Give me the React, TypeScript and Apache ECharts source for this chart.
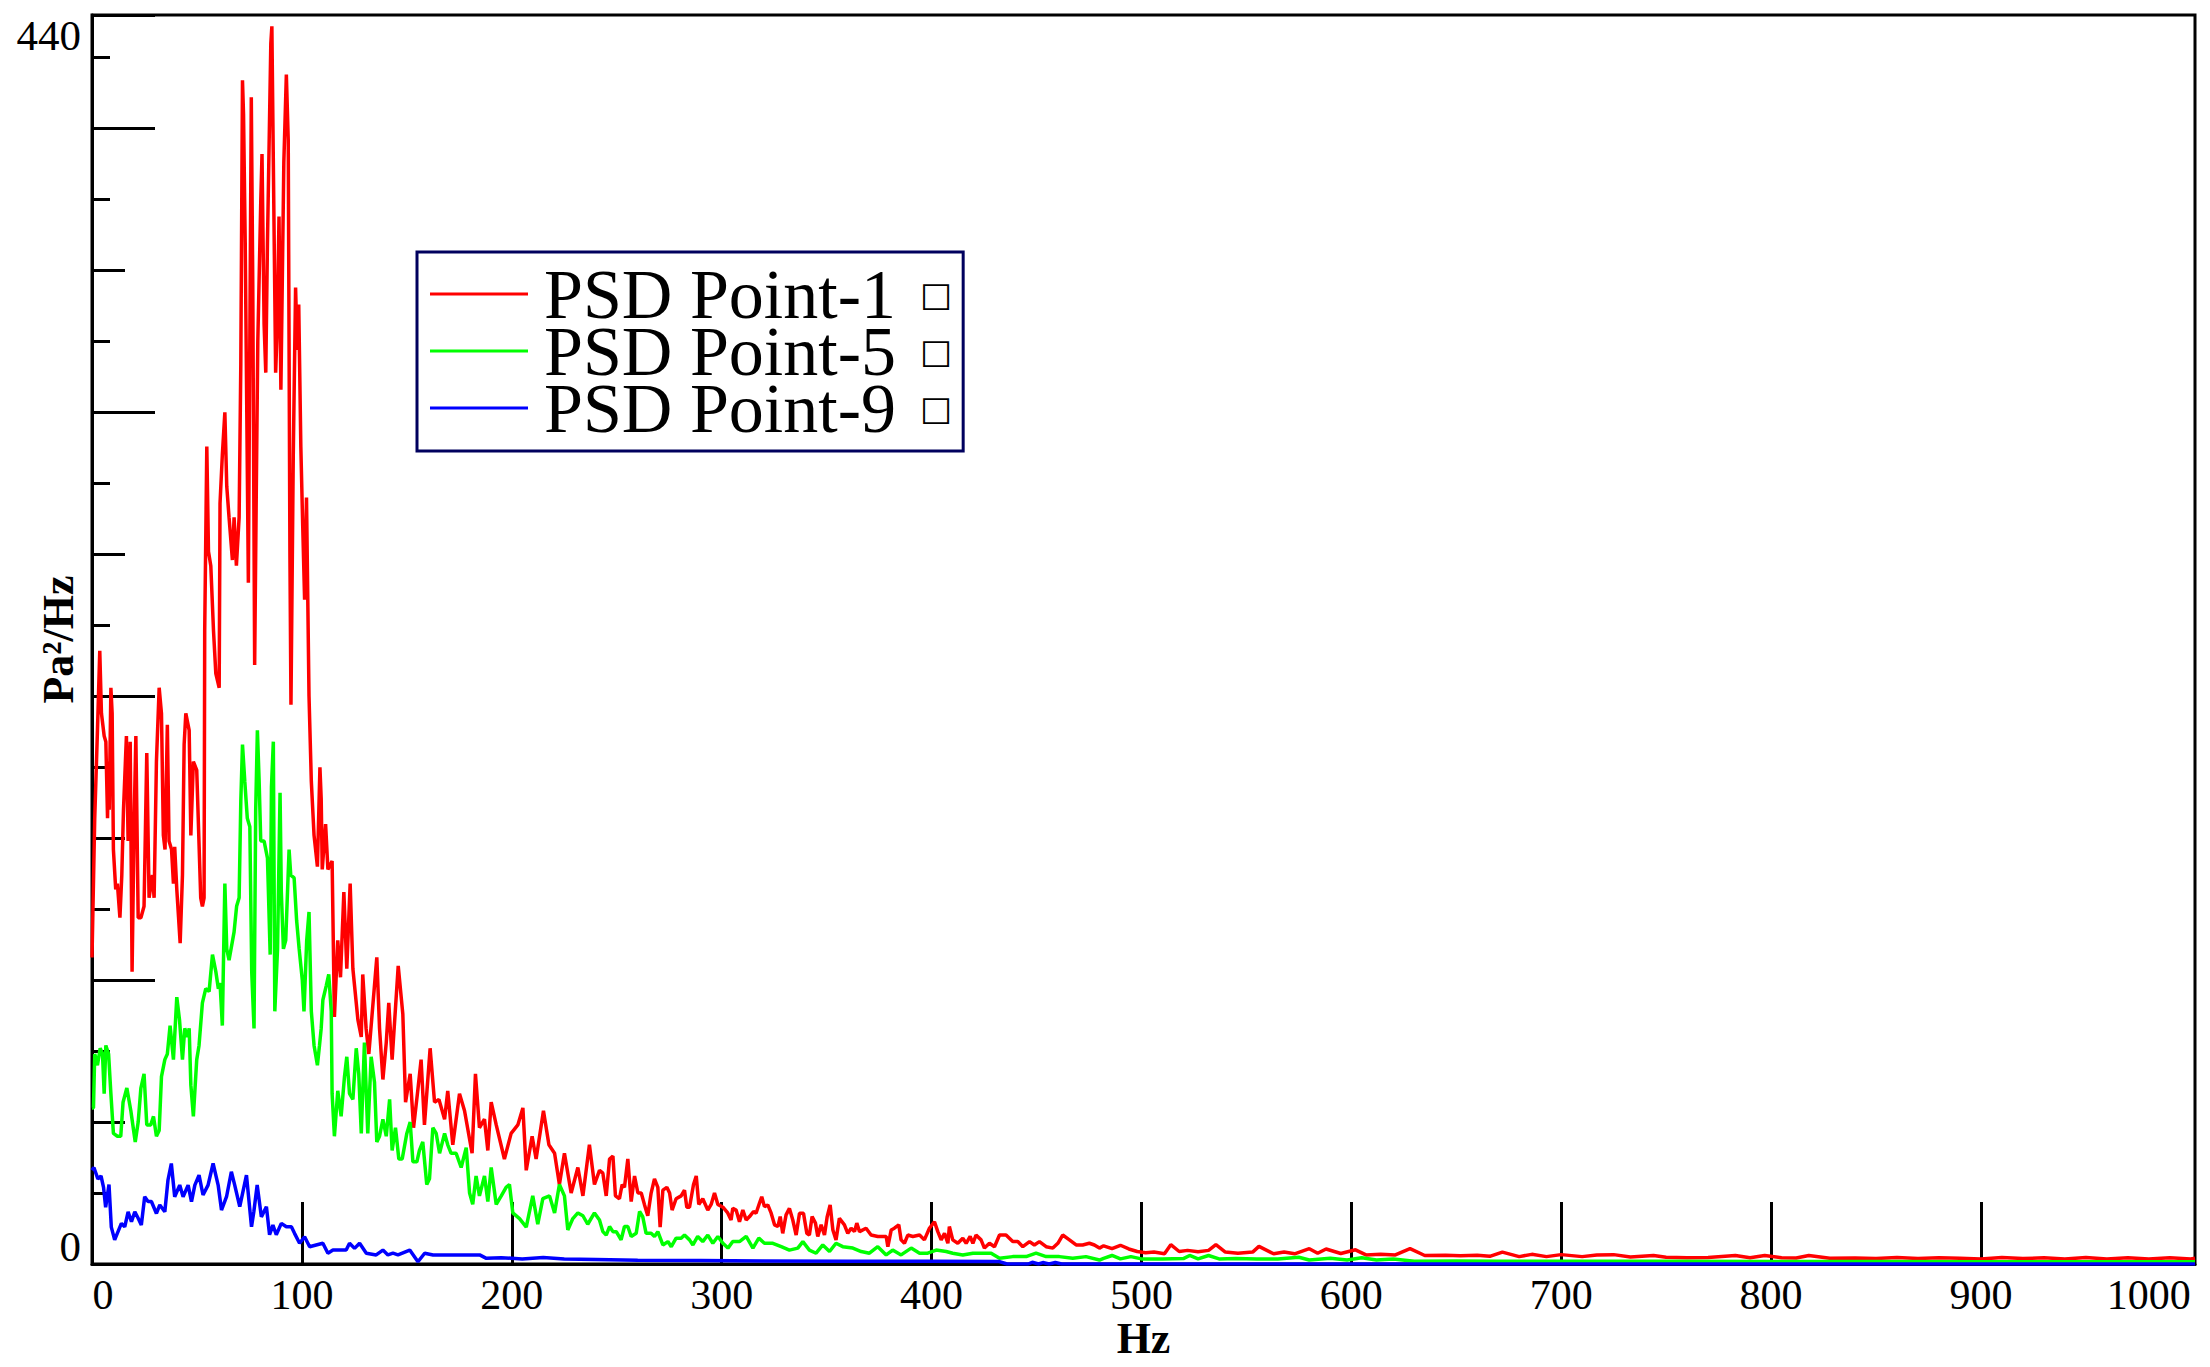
import React, { useEffect, useRef } from 'react';
import * as echarts from 'echarts';

type P = [number, number];

const SERIF = '"Liberation Serif", "Times New Roman", serif';

const seriesNames = ['PSD Point-1', 'PSD Point-5', 'PSD Point-9'];
const seriesColors = ['#ff0000', '#00ff00', '#0000ff'];

const xLabelValues = [0, 100, 200, 300, 400, 500, 600, 700, 800, 900, 1000];
const xTickValues = [100, 200, 300, 400, 500, 600, 700, 800, 900];
const yLabelValues = [0, 440];

// PSD Point-1 (red)
const redLow: P[] = [
  [0, 108], [1.3, 157], [2.6, 188], [3.7, 216], [4.5, 194], [5.8, 186], [6.6, 184], [7.4, 157], [7.9, 177], [8.2, 160],
  [9.0, 203], [9.6, 194], [10.2, 146], [11.3, 132], [12.1, 134], [13.3, 122], [14.2, 137], [15.0, 160], [16.4, 186], [17.2, 149],
  [18.2, 184], [19.1, 103], [20.1, 157], [20.9, 186], [22.0, 122], [23.3, 122], [24.8, 126], [26.1, 180], [27.2, 129], [28.8, 137],
  [29.6, 129], [30.7, 177], [32.0, 203], [33.1, 194], [34.0, 151], [34.8, 146], [35.9, 190], [36.7, 149], [37.9, 146], [38.8, 134],
  [39.4, 147], [40.4, 132], [42.0, 113], [43.1, 137], [43.9, 183], [44.7, 194], [46.3, 188], [47.1, 151], [48.3, 177], [49.9, 174],
  [51.8, 129], [52.6, 126], [53.4, 129], [53.7, 223], [54.7, 288], [55.5, 251], [56.6, 246], [57.9, 223], [59.0, 208], [60.6, 203],
  [61.0, 268], [62.1, 285], [63.3, 300], [64.2, 274], [65.3, 263], [66.9, 248], [67.7, 263], [68.8, 246], [70.1, 263], [70.9, 317],
  [71.7, 417], [72.2, 405], [73.0, 360], [74.5, 240], [75.9, 411], [76.6, 345], [77.5, 211], [78.3, 274], [79.0, 325], [80.4, 374],
  [81.0, 391], [82.0, 331], [82.8, 314], [83.6, 360], [85.2, 430], [85.7, 436], [86.4, 388], [87.5, 314], [88.3, 331], [89.1, 369],
  [89.6, 337], [90.0, 308], [91.4, 388], [92.6, 419], [93.5, 396], [94.3, 250], [94.8, 197], [95.9, 285], [97.0, 344], [97.8, 322],
  [98.5, 338], [99.5, 288], [100.4, 260], [101.3, 234], [102.2, 270], [103.4, 200], [104.5, 170], [105.8, 151], [107.4, 140],
];
const redMid: P[] = [
  [108.6, 175], [109.2, 164], [109.7, 139], [111.3, 155], [112.4, 139], [114.4, 142], [115.5, 87], [117.1, 114], [118.4, 101], [120.0, 131],
  [121.4, 104], [123.0, 134], [124.3, 104], [126.7, 86], [128.3, 80], [129.0, 102], [130.6, 83], [131.9, 74], [135.7, 108], [137.0, 83],
  [138.6, 65], [140.2, 78], [141.4, 92], [143.0, 72], [145.9, 105], [148.1, 88], [149.4, 57], [151.6, 67], [153.2, 48], [155.2, 61],
  [156.8, 72], [158.4, 49], [161.1, 76], [163.2, 57], [165.3, 58], [168.0, 51], [169.5, 61], [171.9, 42], [175.1, 60], [177.5, 54],
  [181.1, 39], [182.7, 67], [184.6, 48], [187.0, 51], [188.6, 40], [190.2, 57], [192.6, 49], [196.5, 37], [199.7, 46], [202.9, 49],
  [205.3, 55], [206.9, 33], [209.7, 45], [211.6, 37], [215.1, 54], [217.7, 42], [220.4, 39], [222.7, 28], [225.1, 39], [228.3, 25],
  [231.5, 34], [233.9, 24], [237.0, 42], [239.4, 28],
];
const redHigh: P[] = [
  [241.8, 33], [243.4, 32], [245.0, 24], [246.6, 37], [248.2, 38], [249.4, 24], [251.3, 23], [252.6, 28], [253.7, 27], [255.3, 37],
  [256.9, 22], [258.5, 31], [260.1, 25], [261.7, 25], [263.2, 21], [264.8, 17], [266.4, 25], [268.0, 30], [269.6, 27], [270.7, 13],
  [272.0, 26], [273.9, 27], [275.2, 25], [276.4, 19], [278.3, 23], [280.7, 24], [282.3, 26], [283.4, 20], [284.7, 20], [286.6, 28],
  [287.9, 31], [289.1, 21], [291.0, 23], [293.4, 19], [295.0, 21], [296.6, 25], [298.2, 21], [300.6, 20], [302.9, 18], [304.5, 15.5],
  [305.3, 19.6], [306.9, 19], [308.5, 14.9], [310.1, 19], [311.7, 15.5], [313.3, 16.7], [315.2, 18.5], [316.4, 17.9], [318.0, 21.4], [319.1, 23.7],
  [320.4, 20.2], [322.0, 20.8], [323.6, 17.9], [325.2, 13.8], [326.8, 13.2], [327.9, 16.7], [329.1, 10.8], [330.7, 17.3], [332.3, 19.6], [333.9, 15.5],
  [335.5, 10.2], [337.1, 17.9], [339.0, 17.9], [340.6, 10.8], [341.8, 10.2], [343.1, 16.7], [344.7, 14.4], [345.8, 9.7], [347.4, 13.8], [349.0, 10.2],
  [350.3, 16.7], [351.7, 20.8], [353.0, 12], [354.5, 8.5], [356.1, 16.1], [358.5, 13.8], [360.1, 10.8], [361.7, 12.6], [363.3, 11.4], [364.4, 14.4],
  [365.7, 11.4], [368.8, 12.6], [371.2, 10.2], [374.4, 9.7], [378.4, 9.7], [379.2, 6.1], [380.8, 12], [382.3, 12.6], [384.4, 13.8], [385.5, 8.5],
  [387.1, 7.3], [388.7, 10.2], [391.1, 9.7], [394.3, 10.2], [396.6, 8.5], [399.0, 12.6], [401.4, 14.9], [403.0, 11.4], [404.6, 8.5], [406.2, 10.8],
  [407.8, 7.3], [408.5, 13.2], [410.1, 8.5], [412.5, 7.3], [414.9, 9.1], [416.5, 7.3], [418.4, 9.7], [419.7, 7.3], [421.2, 10.2], [423.6, 8.5],
  [425.2, 5.6], [427.6, 7.3], [430.0, 6.1], [432.4, 10.2], [435.5, 10.2], [438.7, 7.9], [441.1, 7.9], [443.5, 6.1], [446.7, 7.9], [449.0, 6.7],
  [451.4, 7.9], [454.6, 6.1], [457.8, 5.6], [460.2, 7.3], [462.5, 10.2], [465.7, 8.5], [468.9, 6.7], [472.0, 6.7], [475.2, 7.3], [477.6, 6.7],
  [480.0, 5.6],
];
const redTail: P[] = [
  [482, 6.4], [486, 5.4], [490, 6.6], [494, 5.3], [498, 4.4], [502, 4.0], [506, 4.2], [511, 3.6], [514, 6.8], [518, 4.4],
  [522, 4.8], [527, 4.3], [532, 4.8], [535.5, 6.8], [540, 4.2], [546, 3.8], [553, 4.2], [556, 6.2], [563, 3.6], [568, 4.2],
  [573, 3.6], [580, 5.4], [584, 3.8], [588, 5.3], [595, 3.7], [602, 5.0], [607, 3.2], [614, 3.4], [621, 3.2], [628, 5.4],
  [635, 3.0], [645, 3.1], [652, 2.9], [660, 3.1], [666, 2.7], [672, 4.2], [680, 2.6], [686, 3.4], [693, 2.6], [700, 3.3],
  [710, 2.6], [717, 3.2], [725, 3.3], [733, 2.5], [744, 3.0], [750, 2.4], [760, 2.2], [770, 2.3], [783, 3.0], [790, 2.2],
  [797, 3.0], [805, 2.2], [812, 2.1], [818, 3.0], [828, 2.0], [840, 2.1], [850, 1.9], [860, 2.3], [870, 1.9], [880, 2.2],
  [890, 2.0], [900, 1.8], [910, 2.3], [920, 1.9], [930, 2.2], [940, 1.8], [950, 2.3], [960, 1.8], [970, 2.2], [980, 1.8],
  [990, 2.2], [1000, 1.8], [1002, 2.0],
];

// PSD Point-5 (green)
const greenLow: P[] = [
  [0, 55], [0.7, 55], [1.3, 74], [2.6, 70], [3.9, 76], [5.0, 74], [5.8, 60], [6.6, 77], [7.9, 74], [9.0, 60],
  [10.2, 46], [12.1, 45], [13.7, 45], [14.8, 57], [16.6, 62], [18.5, 54], [20.6, 43], [22.0, 50], [23.3, 62], [24.8, 67],
  [26.1, 49], [28.0, 49], [29.3, 52], [30.7, 45], [32.0, 47], [33.1, 66], [34.7, 72], [35.9, 74], [37.2, 84], [38.8, 72],
  [40.4, 94], [41.7, 86], [43.1, 72], [44.2, 83], [45.5, 80], [46.3, 83], [47.1, 63], [48.3, 52], [49.9, 72], [51.0, 77],
  [52.6, 92], [54.2, 97], [55.8, 96], [57.4, 109], [59.0, 103], [60.2, 97], [61.0, 99], [62.1, 84], [63.3, 134], [64.2, 111],
  [65.3, 107], [67.7, 117], [68.9, 126], [70.1, 129], [70.9, 163], [71.7, 183], [72.8, 170], [74.0, 157], [75.2, 154], [76.1, 103],
  [77.2, 83], [78.0, 160], [78.8, 188], [79.6, 171], [80.4, 149], [82.0, 149], [83.6, 143], [84.9, 109], [85.5, 168], [86.4, 184],
  [87.1, 89], [88.4, 111], [89.6, 166], [90.2, 131], [91.2, 111], [92.3, 114], [93.9, 146], [94.7, 137], [96.3, 136], [97.5, 121],
  [98.7, 111], [100.2, 100], [101.0, 89], [102.3, 114], [103.4, 124], [104.5, 89], [105.8, 77], [107.4, 70],
];
const greenMid: P[] = [
  [108.4, 77], [109.2, 83], [110.0, 93], [111.6, 98], [112.8, 102], [114.0, 89], [114.4, 60], [115.5, 45], [117.1, 61], [118.7, 52],
  [120.3, 66], [121.4, 73], [122.7, 60], [124.3, 58], [125.9, 76], [127.1, 67], [128.3, 46], [129.8, 78], [131.4, 46], [133.0, 73],
  [134.6, 64], [135.7, 43], [137.0, 45], [138.6, 51], [140.2, 45], [141.8, 58], [143.0, 40], [144.6, 48], [146.2, 37], [147.8, 37],
  [150.0, 46], [151.6, 50], [152.9, 36], [154.8, 36], [156.0, 40], [157.6, 43], [159.5, 28], [160.8, 30], [162.4, 48], [164.0, 46],
  [165.6, 39], [168.0, 46], [169.5, 42], [171.1, 39], [173.5, 39], [175.9, 34], [178.3, 41], [179.9, 25], [181.4, 21], [183.0, 31],
  [184.6, 24], [187.0, 31], [188.6, 22], [190.2, 34], [192.6, 21], [195.0, 24], [197.3, 27], [198.9, 28], [200.5, 18], [203.7, 16],
  [206.9, 13], [210.0, 24], [212.4, 14], [214.8, 23], [218.0, 24], [220.4, 18], [222.7, 28], [225.1, 24], [226.7, 12], [229.1, 16],
  [231.5, 18], [233.9, 17], [236.2, 14], [239.4, 18],
];
const greenHigh: P[] = [
  [241.8, 15.5], [243.4, 11.4], [245.0, 10.2], [246.6, 13.2], [248.2, 11.4], [249.8, 11.4], [252.1, 8.5], [253.7, 13.2], [255.3, 13.2], [256.9, 9.7],
  [259.3, 10.8], [260.9, 18.5], [262.4, 16.7], [264.0, 10.8], [266.4, 10.8], [268.0, 9.7], [269.6, 11.4], [272.0, 6.7], [274.4, 7.9], [276.0, 6.1],
  [278.3, 9.1], [280.7, 9.1], [282.3, 10.2], [284.7, 8.5], [286.3, 6.7], [288.6, 9.7], [291.0, 7.9], [293.4, 10.2], [295.8, 7.3], [298.2, 9.7],
  [300.6, 7.3], [303.0, 5.6], [305.3, 7.9], [308.5, 7.9], [311.7, 9.7], [314.9, 5.6], [317.7, 9.1], [320.4, 7.3], [324.4, 7.3], [328.4, 6.1],
  [332.3, 4.9], [336.3, 5.6], [338.7, 7.9], [341.8, 4.9], [345.0, 3.8], [348.2, 6.7], [351.4, 4.4], [354.5, 7.3], [357.7, 6.1], [362.5, 5.6],
  [366.5, 4.4], [370.4, 3.8], [374.4, 6.1], [378.4, 3.2], [381.5, 4.9], [385.5, 3.2], [390.3, 5.6], [394.3, 3.8], [398.2, 3.8], [402.2, 4.9],
  [407.0, 4.4], [410.1, 3.8], [414.9, 3.2], [419.7, 3.8], [424.4, 3.8], [428.4, 3.8], [432.4, 2.0], [438.7, 2.6], [445.1, 2.6], [449.8, 3.8],
  [454.6, 2.6], [460.9, 2.6], [467.3, 2.0], [473.6, 2.6], [480.0, 1.4],
];
const greenTail: P[] = [
  [482, 2.0], [486, 3.0], [490, 1.8], [495, 2.6], [500, 1.8], [510, 1.8], [520, 1.9], [523, 3.0], [527, 1.8], [532, 3.0],
  [537, 1.8], [545, 1.9], [555, 1.8], [565, 1.8], [575, 2.4], [580, 1.4], [590, 2.0], [598, 1.4], [605, 2.2], [612, 1.4],
  [620, 1.8], [630, 1.0], [650, 1.1], [670, 1.0], [700, 1.0], [750, 1.0], [800, 0.9], [850, 0.9], [900, 0.8], [950, 0.8],
  [1000, 0.8], [1002, 0.8],
];

// PSD Point-9 (blue)
const blueLow: P[] = [
  [0, 33], [0.9, 34], [2.8, 30], [4.3, 31], [5.5, 27], [6.5, 20], [8.1, 28], [9.2, 13], [10.8, 8.5], [12.4, 11.4],
  [14.0, 14.3], [15.6, 13.1], [17.2, 18.4], [18.8, 14.9], [20.4, 18.4], [22.0, 16.1], [23.5, 13.7], [25.1, 23.7], [26.7, 22], [28.3, 22],
  [30.7, 17.8], [32.3, 20.8], [34.7, 18.4], [36.2, 29.6], [37.8, 35.4], [39.4, 23.7], [41.8, 27.8], [43.4, 23.7], [45.8, 27.8], [47.4, 22],
  [49.0, 27.8], [51.0, 31.3], [52.9, 24.3], [55.3, 27.8], [57.7, 35.4], [60.1, 27.8], [61.7, 19], [64.1, 23.7], [66.4, 32.5], [68.0, 27.8],
  [70.4, 20.2], [73.6, 31.3], [76.0, 13.1], [77.1, 18.4], [78.7, 27.8], [80.7, 16.6], [83.1, 20.2], [84.6, 10.3], [86.2, 13.7], [87.8, 10.3],
  [90.2, 14.3], [92.6, 13.1], [95.0, 13.1], [96.5, 10.8], [98.9, 7.3], [101.3, 9.6], [103.7, 6.1], [106.8, 6.7], [110.0, 7.3], [112.4, 3.8],
  [114.8, 4.9], [121.1, 4.9], [122.7, 7.3], [125.1, 5.5], [127.5, 7.3], [130.7, 3.8], [135.4, 3.2], [138.6, 4.9], [141.0, 3.2], [143.4, 3.8],
  [145.8, 3.2], [151.4, 4.9], [155.3, 0.8], [158.5, 3.8], [162.5, 3.2], [170.4, 3.2], [178.3, 3.2], [184.7, 3.2], [187.9, 2.0],
];
const blueTail: P[] = [
  [195, 2.2], [205, 1.8], [215, 2.3], [225, 1.8], [240, 1.6], [260, 1.3], [290, 1.2], [320, 1.1], [360, 1.0], [400, 1.0],
  [432, 0.9], [436, 0], [446, 0], [448, 0.6], [451, 0], [453, 0.5], [456, 0], [459, 0.5], [462, 0], [1002, 0],
];

const redData = [...redLow, ...redMid, ...redHigh, ...redTail];
const greenData = [...greenLow, ...greenMid, ...greenHigh, ...greenTail];
const blueData = [...blueLow, ...blueTail];
const seriesData = [redData, greenData, blueData];

const black = '#000000';

function buildOption() {
  const lineSt = { color: black, width: 3 };
  const yBase = {
    type: 'value',
    min: 0,
    max: 440,
    position: 'left',
    splitLine: { show: false },
    axisLine: { show: false },
    axisLabel: { show: false },
  };
  return {
    animation: false,
    backgroundColor: '#ffffff',
    grid: {
      left: 92,
      top: 15,
      width: 2103,
      height: 1249,
      show: true,
      borderColor: black,
      borderWidth: 3,
      backgroundColor: 'transparent',
      containLabel: false,
      outerBoundsMode: 'none',
    },
    legend: {
      show: true,
      orient: 'vertical',
      left: 417,
      top: 252,
      padding: [7, 11, 8, 13],
      itemGap: -13,
      itemWidth: 98,
      itemHeight: 3,
      icon: 'rect',
      borderColor: '#00005e',
      borderWidth: 3,
      backgroundColor: '#ffffff',
      selectedMode: false,
      data: seriesNames,
      formatter: (name: string) => `{t|${name}}{s|□}`,
      textStyle: {
        color: black,
        fontFamily: SERIF,
        fontSize: 70,
        lineHeight: 57,
        rich: {
          t: { fontFamily: SERIF, fontSize: 70, lineHeight: 57, color: black, padding: [0, 0, 0, 11] },
          s: { fontFamily: '"DejaVu Sans", sans-serif', fontSize: 34, lineHeight: 57, color: black, padding: [0, 0, 0, 24] },
        },
      },
    },
    xAxis: {
      type: 'value',
      min: 0,
      max: 1002,
      interval: 100,
      splitLine: { show: false },
      axisLine: { show: true, onZero: false, lineStyle: lineSt },
      axisTick: { show: true, inside: true, length: 62, lineStyle: lineSt, customValues: xTickValues },
      axisLabel: {
        show: true,
        customValues: xLabelValues,
        margin: 10,
        color: black,
        fontFamily: SERIF,
        fontSize: 42,
        showMinLabel: true,
        showMaxLabel: true,
        formatter: (v: number) => {
          if (!xLabelValues.includes(v)) return '';
          if (v === xLabelValues[0]) return `{l|${v}}`;
          if (v === xLabelValues[xLabelValues.length - 1]) return `{r|${v}}`;
          return `{n|${v}}`;
        },
        rich: {
          n: { fontFamily: SERIF, fontSize: 42, color: black },
          l: { fontFamily: SERIF, fontSize: 42, color: black, padding: [0, 0, 0, 22] },
          r: { fontFamily: SERIF, fontSize: 42, color: black, padding: [0, 84, 0, 0] },
        },
      },
      name: 'Hz',
      nameLocation: 'middle',
      nameGap: 52,
      nameMoveOverlap: false,
      nameTextStyle: { color: black, fontFamily: SERIF, fontSize: 44, fontWeight: 'bold' },
    },
    yAxis: [
      {
        ...yBase,
        interval: 25,
        axisLine: { show: true, onZero: false, lineStyle: lineSt },
        axisTick: { show: true, inside: true, length: 18, lineStyle: lineSt },
        axisLabel: {
          show: true,
          margin: 11,
          color: black,
          fontFamily: SERIF,
          fontSize: 43,
          showMinLabel: true,
          showMaxLabel: true,
          formatter: (v: number) => {
            if (v === yLabelValues[0]) return `{lo|${v}}`;
            if (v === yLabelValues[1]) return `{hi|${v}}`;
            return '';
          },
          rich: {
            lo: { fontFamily: SERIF, fontSize: 43, color: black, padding: [0, 0, 36, 0] },
            hi: { fontFamily: SERIF, fontSize: 43, color: black, padding: [41, 0, 0, 0] },
          },
        },
        name: 'Pa²/Hz',
        nameLocation: 'middle',
        nameGap: 12,
        nameMoveOverlap: false,
        nameTextStyle: { color: black, fontFamily: SERIF, fontSize: 44, fontWeight: 'bold' },
      },
      {
        ...yBase,
        interval: 50,
        axisTick: { show: true, inside: true, length: 33, lineStyle: lineSt },
      },
      {
        ...yBase,
        interval: 100,
        axisTick: { show: true, inside: true, length: 63, lineStyle: lineSt },
      },
    ],
    series: seriesNames.map((name, i) => ({
      name,
      type: 'line',
      xAxisIndex: 0,
      yAxisIndex: 0,
      data: seriesData[i],
      showSymbol: false,
      symbol: 'none',
      lineStyle: { color: seriesColors[i], width: 3.5 },
      itemStyle: { color: seriesColors[i] },
      emphasis: { disabled: true },
      silent: true,
    })),
  };
}

export default function App() {
  const ref = useRef<HTMLDivElement>(null);
  useEffect(() => {
    if (!ref.current) return;
    const chart = echarts.init(ref.current, null, { renderer: 'svg' });
    chart.setOption(buildOption() as any);
    return () => {
      chart.dispose();
    };
  }, []);
  return (
    <div
      ref={ref}
      style={{ position: 'absolute', left: 0, top: 0, width: 2210, height: 1367, background: '#ffffff' }}
    />
  );
}
